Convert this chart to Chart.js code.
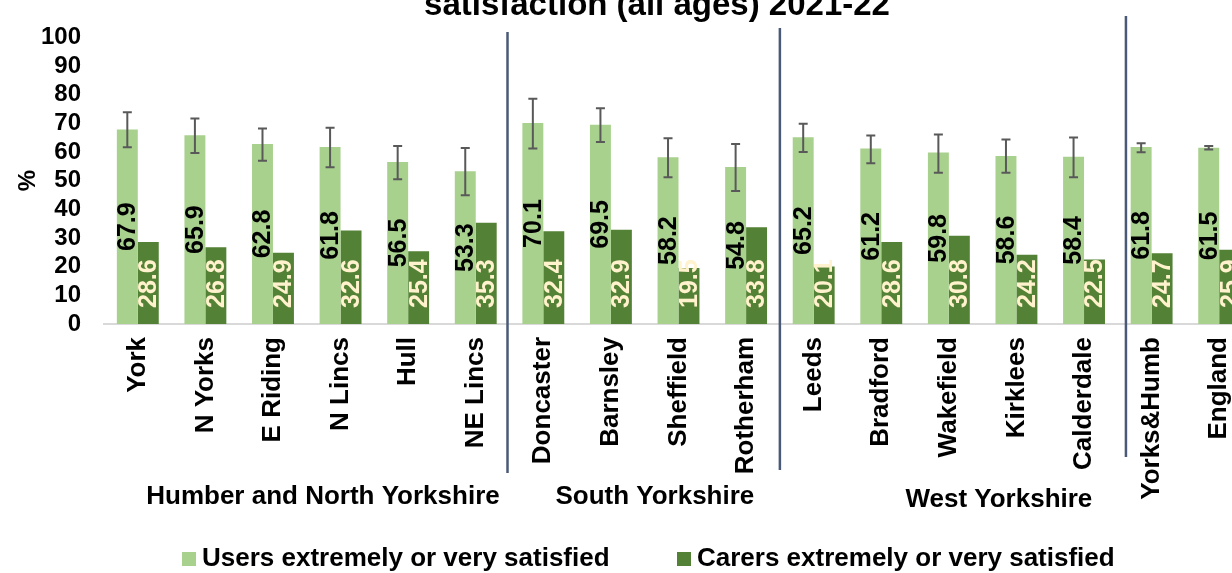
<!DOCTYPE html>
<html>
<head>
<meta charset="utf-8">
<title>Satisfaction 2021-22</title>
<script src="https://cdn.jsdelivr.net/npm/chart.js@4.4.1/dist/chart.umd.min.js"></script>
<style>
  html, body { margin: 0; padding: 0; background: #fff; overflow: hidden; }
  #wrap { position: relative; width: 1232px; height: 573px; overflow: hidden; }
  canvas { position: absolute; left: 0; top: 0; }
</style>
</head>
<body>
<div id="wrap"><canvas id="satChart" width="1300" height="573"></canvas></div>
<script>
/////////////////////////////////////////////////////////////
// DATA

const areas = ["York", "N Yorks", "E Riding", "N Lincs", "Hull", "NE Lincs",
  "Doncaster", "Barnsley", "Sheffield", "Rotherham",
  "Leeds", "Bradford", "Wakefield", "Kirklees", "Calderdale",
  "Yorks&Humb", "England"];

const usersSatisfied = [67.9, 65.9, 62.8, 61.8, 56.5, 53.3, 70.1, 69.5, 58.2, 54.8,
  65.2, 61.2, 59.8, 58.6, 58.4, 61.8, 61.5];
const carersSatisfied = [28.6, 26.8, 24.9, 32.6, 25.4, 35.3, 32.4, 32.9, 19.5, 33.8,
  20.1, 28.6, 30.8, 24.2, 22.5, 24.7, 25.9];

// confidence intervals for the users figures
const usersLow = [61.7, 59.7, 57.0, 54.7, 50.5, 44.9, 61.2, 63.5, 51.2, 46.4,
  60.0, 56.1, 52.8, 52.8, 51.2, 59.9, 60.9];
const usersHigh = [73.9, 71.7, 68.2, 68.5, 62.1, 61.4, 78.6, 75.3, 64.8, 62.8,
  69.9, 65.8, 66.1, 64.4, 65.1, 63.1, 62.1];

const yTicks = [0, 10, 20, 30, 40, 50, 60, 70, 80, 90, 100];

const groupNames = ["Humber and North Yorkshire", "South Yorkshire", "West Yorkshire"];
const groupCentres = [2.74, 7.65, 12.74]; // in category units
const dividerAt = [5.47, 9.5, 14.62];     // in category units

/////////////////////////////////////////////////////////////
// STYLE

const FONT = "'Liberation Sans', Arial, sans-serif";
const lightGreen = "#A9D18E";
const darkGreen = "#538135";
const cream = "#FFF2CC";
const divColour = "#4A5A76";
const divTop = [32, 28, 16];
const divBottom = [473, 470, 457];
const groupY = [497, 497, 500];
const legendX = [182, 677];
const legendY = 559;

// 0) extra drawing: error bars, value labels, dividers, group names, legend, title
const extras = {
  id: "extras",
  afterDatasetsDraw(chart) {
    const { ctx, scales: { x, y } } = chart;
    const users = chart.getDatasetMeta(0).data;
    const carers = chart.getDatasetMeta(1).data;

    // error bars on the users bars
    ctx.save();
    ctx.strokeStyle = "#595959";
    ctx.lineWidth = 2;
    users.forEach((bar, i) => {
      const yHi = y.getPixelForValue(usersHigh[i]);
      const yLo = y.getPixelForValue(usersLow[i]);
      ctx.beginPath();
      ctx.moveTo(bar.x, yHi);
      ctx.lineTo(bar.x, yLo);
      ctx.moveTo(bar.x - 4.5, yHi);
      ctx.lineTo(bar.x + 4.5, yHi);
      ctx.moveTo(bar.x - 4.5, yLo);
      ctx.lineTo(bar.x + 4.5, yLo);
      ctx.stroke();
    });
    ctx.restore();

    // value labels, written upwards
    ctx.save();
    ctx.font = `bold 25px ${FONT}`;
    ctx.textBaseline = "middle";
    users.forEach((bar, i) => {
      ctx.save();
      ctx.translate(bar.x + 1, (bar.y + bar.base) / 2);
      ctx.rotate(-Math.PI / 2);
      ctx.textAlign = "center";
      ctx.fillStyle = "#000";
      ctx.fillText(usersSatisfied[i].toFixed(1), 0, 0);
      ctx.restore();
    });
    carers.forEach((bar, i) => {
      ctx.save();
      ctx.translate(bar.x + 1, bar.base - 16);
      ctx.rotate(-Math.PI / 2);
      ctx.textAlign = "left";
      ctx.fillStyle = cream;
      ctx.fillText(carersSatisfied[i].toFixed(1), 0, 0);
      ctx.restore();
    });
    ctx.restore();
  },
  afterDraw(chart) {
    const { ctx, scales: { x } } = chart;
    ctx.save();

    // dividers between the sub-regions
    ctx.strokeStyle = divColour;
    ctx.lineWidth = 2.5;
    dividerAt.forEach((v, i) => {
      const px = x.getPixelForValue(v);
      ctx.beginPath();
      ctx.moveTo(px, divTop[i]);
      ctx.lineTo(px, divBottom[i]);
      ctx.stroke();
    });

    // sub-region names
    ctx.fillStyle = "#000";
    ctx.font = `bold 26px ${FONT}`;
    ctx.textAlign = "center";
    ctx.textBaseline = "middle";
    groupNames.forEach((name, i) => {
      ctx.fillText(name, x.getPixelForValue(groupCentres[i]), groupY[i]);
    });

    // legend: a small square and the series name
    ctx.textAlign = "left";
    chart.data.datasets.forEach((ds, i) => {
      ctx.fillStyle = ds.backgroundColor;
      ctx.fillRect(legendX[i], legendY - 7, 14, 14);
      ctx.fillStyle = "#000";
      ctx.fillText(ds.label, legendX[i] + 20, legendY);
    });

    // title (only its last line fits on the canvas)
    ctx.textAlign = "center";
    ctx.font = `bold 33px ${FONT}`;
    ctx.textBaseline = "alphabetic";
    ctx.fillText("satisfaction (all ages) 2021-22", 657, 15);
    ctx.restore();
  },
};

// 1) setup
const sat_chart_data = {
  labels: areas,
  datasets: [
    {
      label: "Users extremely or very satisfied",
      data: usersSatisfied,
      backgroundColor: lightGreen,
      borderWidth: 0,
      categoryPercentage: 0.62,
      barPercentage: 1.0,
    },
    {
      label: "Carers extremely or very satisfied",
      data: carersSatisfied,
      backgroundColor: darkGreen,
      borderWidth: 0,
      categoryPercentage: 0.62,
      barPercentage: 1.0,
    },
  ],
};

// 2) config
const sat_chart_config = {
  type: "bar",
  data: sat_chart_data,
  options: {
    responsive: false,
    animation: false,
    devicePixelRatio: 1,
    layout: {
      padding: { left: 0, right: 47, top: 23, bottom: 0 },
    },
    scales: {
      x: {
        grid: { display: false, drawTicks: false },
        border: { display: true, color: "#D9D9D9", width: 2 },
        ticks: {
          autoSkip: false,
          minRotation: 90,
          maxRotation: 90,
          padding: 13,
          color: "#000",
          font: { family: FONT, size: 26, weight: "bold" },
        },
        afterFit(scale) {
          scale.height = 249;
        },
      },
      y: {
        min: 0,
        max: 100,
        afterBuildTicks(scale) {
          scale.ticks = yTicks.map((v) => ({ value: v }));
        },
        grid: { display: false, drawTicks: false },
        border: { display: false },
        ticks: {
          autoSkip: false,
          padding: 23,
          color: "#000",
          font: { family: FONT, size: 24, weight: "bold" },
        },
        title: {
          display: true,
          text: "%",
          color: "#000",
          padding: { top: 14, bottom: 0 },
          font: { family: FONT, size: 24, weight: "bold" },
        },
        afterFit(scale) {
          scale.width = 104;
        },
      },
    },
    plugins: {
      legend: { display: false },
      title: { display: false },
      tooltip: { enabled: false },
    },
  },
  plugins: [extras],
};

// 3) render chart
const sat_ctx = document.getElementById("satChart").getContext("2d");
const satChart = new Chart(sat_ctx, sat_chart_config);
</script>
</body>
</html>
